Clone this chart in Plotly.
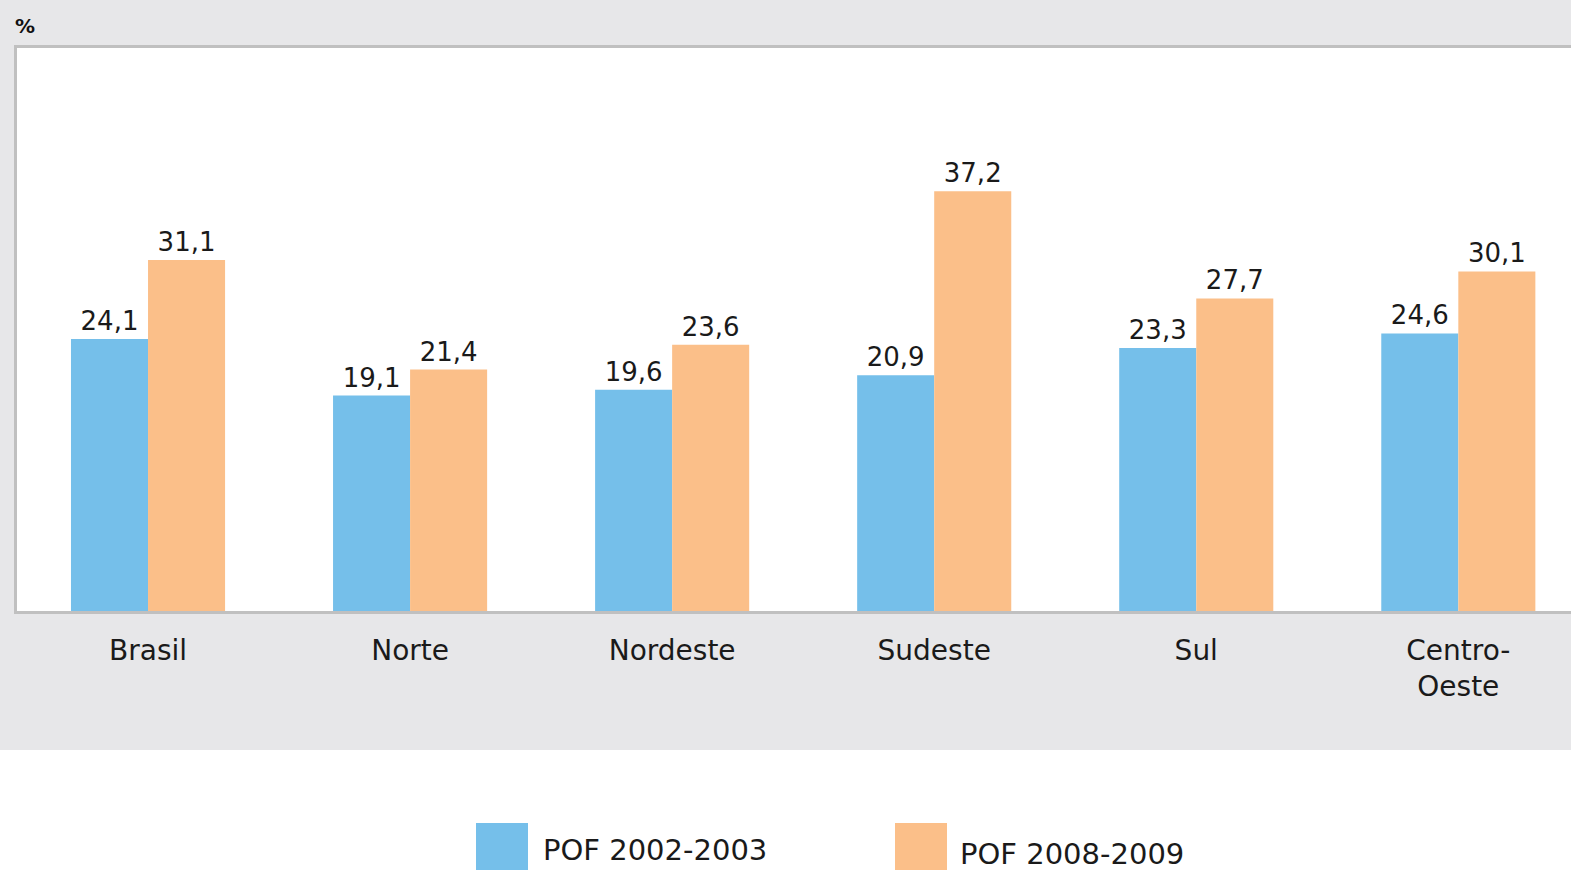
import plotly.graph_objects as go

categories = ["Brasil", "Norte", "Nordeste", "Sudeste", "Sul", "Centro-<br>Oeste"]
series_names = ["POF 2002-2003", "POF 2008-2009"]
values_2002 = [24.1, 19.1, 19.6, 20.9, 23.3, 24.6]
values_2008 = [31.1, 21.4, 23.6, 37.2, 27.7, 30.1]
colors = ["#75BFEA", "#FBBF89"]

W, H = 1571, 873
L, R, T, B = 17, 0, 48, 262
PW, PH = W - L - R, H - T - B

def px(x):
    return (x - L) / PW

def py(y):
    return (H - B - y) / PH

FONT = "DejaVu Sans"

fig = go.Figure()
for name, vals, col in zip(series_names, [values_2002, values_2008], colors):
    fig.add_trace(go.Bar(
        x=list(range(len(categories))), y=vals, name=name,
        marker=dict(color=col, line=dict(width=0)),
        texttemplate="%{y:.1f}", textposition="outside",
        textfont=dict(family=FONT, size=26, color="#1a1a1a"),
        cliponaxis=False, showlegend=False,
    ))

shapes = [
    dict(type="rect", xref="paper", yref="paper", x0=px(0), x1=px(W), y0=py(750), y1=py(H + 5),
         fillcolor="white", line=dict(width=0), layer="below"),
    dict(type="line", xref="paper", yref="paper", x0=px(15.5), x1=px(15.5), y0=py(46.5), y1=py(612.5),
         line=dict(color="#C0C0C0", width=3)),
    dict(type="line", xref="paper", yref="paper", x0=px(14), x1=px(W + 5), y0=py(46.5), y1=py(46.5),
         line=dict(color="#C0C0C0", width=3)),
    dict(type="line", xref="paper", yref="paper", x0=px(14), x1=px(W + 5), y0=py(612.5), y1=py(612.5),
         line=dict(color="#C0C0C0", width=3)),
]

annotations = [
    dict(text="%", xref="paper", yref="paper", x=px(13), y=py(26), xanchor="left", yanchor="middle",
         showarrow=False, font=dict(family=FONT, size=20, color="#111111", weight="bold")),
]

legend_items = [(476, 823, 541, 850), (895, 823, 958, 854)]
for (sx, sy, tx, ty), name, col in zip(legend_items, series_names, colors):
    shapes.append(dict(type="rect", xref="paper", yref="paper", x0=px(sx), x1=px(sx + 52),
                       y0=py(sy), y1=py(sy + 47), fillcolor=col, line=dict(width=0)))
    annotations.append(dict(text=name, xref="paper", yref="paper", x=px(tx), y=py(ty),
                            xanchor="left", yanchor="middle", showarrow=False,
                            font=dict(family=FONT, size=29, color="#1a1a1a")))

fig.update_layout(
    width=W, height=H,
    margin=dict(l=L, r=R, t=T, b=B, pad=0),
    paper_bgcolor="#E7E7E9", plot_bgcolor="white",
    barmode="group", bargap=0.412, bargroupgap=0,
    separators=",.",
    shapes=shapes, annotations=annotations,
    xaxis=dict(range=[-0.5, 5.43], tickmode="array", tickvals=list(range(len(categories))),
               ticktext=categories, ticks="outside", ticklen=14, tickcolor="rgba(0,0,0,0)",
               tickfont=dict(family=FONT, size=28, color="#1a1a1a"),
               showgrid=False, zeroline=False, showline=False, fixedrange=True),
    yaxis=dict(range=[0, 49.9], showticklabels=False, showgrid=False, zeroline=False,
               showline=False, ticks="", fixedrange=True),
    showlegend=False,
)

fig.write_html("out.html", config={"displayModeBar": False},
               post_script="document.body.style.margin='0px';document.body.style.overflow='hidden';")
